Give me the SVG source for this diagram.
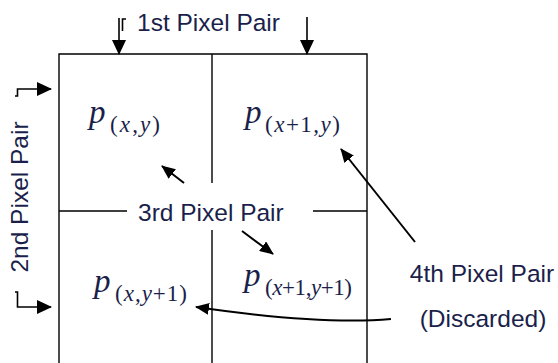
<svg xmlns="http://www.w3.org/2000/svg" width="558" height="363" viewBox="0 0 558 363">
<style>
.grid{stroke:#000;stroke-width:1.4;fill:none}
.arr{stroke:#000;stroke-width:1.6;fill:none}
.darr{stroke:#000;stroke-width:2;fill:none}
.lbl{font-family:"Liberation Sans",Arial,sans-serif;font-size:24.5px;fill:#1b1f4b}
.p{font-family:"Liberation Serif","Times New Roman",serif;font-style:italic;font-size:33px;fill:#1b1f4b}
.sub{font-family:"Liberation Serif","Times New Roman",serif;font-size:23px;fill:#1b1f4b}
.it{font-style:italic}
</style>
<defs>
<marker id="ah" markerUnits="userSpaceOnUse" markerWidth="15" markerHeight="14" refX="14" refY="7" orient="auto">
<path d="M0,0 L15,7 L0,14 z" fill="#000"/>
</marker>
<marker id="ahs" markerUnits="userSpaceOnUse" markerWidth="14" markerHeight="12" refX="13" refY="6" orient="auto">
<path d="M0,0 L14,6 L0,12 z" fill="#000"/>
</marker>
</defs>
<rect width="558" height="363" fill="#fff"/>
<g id="grid">
<path class="grid" d="M59,363 V54 H367 V363"/>
<path class="grid" d="M212,54 V183 M212,230 V363"/>
<path class="grid" d="M59,211 H127 M313,211 H367"/>
</g>
<g id="cell-xy">
<text class="p" x="89" y="123">p</text>
<text class="sub" x="110" y="132" textLength="50" lengthAdjust="spacing">(<tspan class="it">x</tspan>,<tspan class="it">y</tspan>)</text>
</g>
<g id="cell-x1y">
<text class="p" x="245" y="123">p</text>
<text class="sub" x="265" y="132" textLength="75" lengthAdjust="spacing">(<tspan class="it">x</tspan>+1,<tspan class="it">y</tspan>)</text>
</g>
<g id="cell-xy1">
<text class="p" x="94" y="292">p</text>
<text class="sub" x="115" y="301" textLength="72" lengthAdjust="spacing">(<tspan class="it">x</tspan>,<tspan class="it">y</tspan>+1)</text>
</g>
<g id="cell-x1y1">
<text class="p" x="244" y="286">p</text>
<text class="sub" x="265" y="295" textLength="87" lengthAdjust="spacing">(<tspan class="it">x</tspan>+1,<tspan class="it">y</tspan>+1)</text>
</g>
<g id="label-1st">
<text class="lbl" x="137" y="31">1st Pixel Pair</text>
<path class="arr" d="M126,19 H122.5 V31"/>
</g>
<g id="label-2nd">
<text class="lbl" transform="translate(28,197) rotate(-90)" text-anchor="middle">2nd Pixel Pair</text>
</g>
<g id="label-3rd">
<text class="lbl" x="138" y="221">3rd Pixel Pair</text>
</g>
<g id="label-4th">
<text class="lbl" x="482" y="282" text-anchor="middle">4th Pixel Pair</text>
<text class="lbl" x="483" y="327" text-anchor="middle">(Discarded)</text>
</g>
<g id="connectors">
<path class="arr" d="M119,18 V54" marker-end="url(#ah)"/>
<path class="arr" d="M307,17 V54" marker-end="url(#ah)"/>
<path class="arr" d="M15,96 H17.5 V89 H51" marker-end="url(#ah)"/>
<path class="arr" d="M15,292 H17.5 V307 H51" marker-end="url(#ah)"/>
<path class="darr" d="M184,183 L162,166" marker-end="url(#ahs)"/>
<path class="darr" d="M242,231 L273,254" marker-end="url(#ahs)"/>
<path class="darr" d="M415,242 L341,149" marker-end="url(#ahs)"/>
<path class="darr" d="M391,319 Q320,325 196,307" marker-end="url(#ahs)"/>
</g>
</svg>
